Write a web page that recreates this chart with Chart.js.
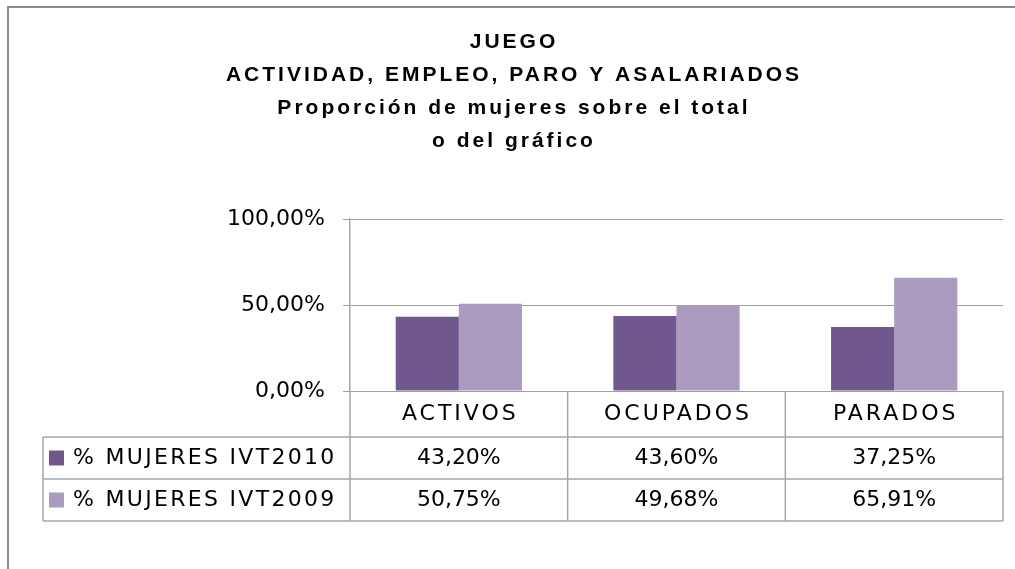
<!DOCTYPE html>
<html>
<head>
<meta charset="utf-8">
<script src="https://cdn.jsdelivr.net/npm/chart.js@4.4.1/dist/chart.umd.min.js"></script>
<style>
  html, body { margin: 0; background: #fff; }
  #wrap { width: 1015px; height: 569px; position: relative; }
</style>
</head>
<body>
<div id="wrap"><canvas id="chart"></canvas></div>
<script>
const categories = ['ACTIVOS', 'OCUPADOS', 'PARADOS'];
const seriesNames = ['% MUJERES IVT2010', '% MUJERES IVT2009'];
const mujeres2010 = [43.20, 43.60, 37.25];
const mujeres2009 = [50.75, 49.68, 65.91];
const yTicks = [0, 50, 100];
const titleLines = [
  'JUEGO',
  'ACTIVIDAD, EMPLEO, PARO Y ASALARIADOS',
  'Proporción de mujeres sobre el total',
  'o del gráfico'
];

const colors = ['#70588E', '#AA9BBF'];
const lineGray = '#A6A6A6';
const fmtPct = v => Number(v).toFixed(2).replace('.', ',') + '%';

// title, outer frame and the data table under the plot
const tablePlugin = {
  id: 'tablePlugin',
  afterDraw(chart) {
    const ctx = chart.ctx;
    const { left, right, bottom } = chart.chartArea;
    const x = chart.scales.x;
    const series = [mujeres2010, mujeres2009];
    const rowTops = [bottom, 437, 479, 521];
    const tableLeft = 43;

    ctx.save();

    // frame
    ctx.strokeStyle = '#8C8C8C';
    ctx.lineWidth = 2;
    ctx.beginPath();
    ctx.moveTo(8, 569); ctx.lineTo(8, 7); ctx.lineTo(1015, 7);
    ctx.stroke();

    // title
    ctx.fillStyle = '#000';
    ctx.textAlign = 'center';
    ctx.textBaseline = 'middle';
    ctx.font = 'bold 21px "Liberation Sans", sans-serif';
    ctx.letterSpacing = '3px';
    const titleY = [42, 75, 108, 141];
    titleLines.forEach((t, i) => ctx.fillText(t, 514, titleY[i]));

    // table grid
    ctx.strokeStyle = lineGray;
    ctx.lineWidth = 1.5;
    ctx.beginPath();
    for (let r = 1; r < rowTops.length; r++) {
      ctx.moveTo(tableLeft, rowTops[r]); ctx.lineTo(right, rowTops[r]);
    }
    ctx.moveTo(tableLeft, rowTops[1]); ctx.lineTo(tableLeft, rowTops[3]);
    const bounds = [left];
    for (let i = 0; i < categories.length - 1; i++) {
      bounds.push((x.getPixelForValue(i) + x.getPixelForValue(i + 1)) / 2);
    }
    bounds.push(right);
    bounds.forEach(b => { ctx.moveTo(b, bottom); ctx.lineTo(b, rowTops[3]); });
    ctx.stroke();

    // category header
    ctx.font = '22px "DejaVu Sans", sans-serif';
    ctx.letterSpacing = '3px';
    categories.forEach((c, i) => {
      ctx.fillText(c, x.getPixelForValue(i) + 1.5, (rowTops[0] + rowTops[1]) / 2);
    });

    // series rows
    series.forEach((vals, s) => {
      const cy = (rowTops[s + 1] + rowTops[s + 2]) / 2;
      ctx.fillStyle = colors[s];
      ctx.fillRect(49, cy - 7.5, 15, 15);
      ctx.fillStyle = '#000';
      ctx.textAlign = 'left';
      ctx.letterSpacing = '2.3px';
      ctx.fillText(seriesNames[s], 73, cy);
      ctx.textAlign = 'center';
      ctx.letterSpacing = '0px';
      vals.forEach((v, i) => ctx.fillText(fmtPct(v), x.getPixelForValue(i), cy));
    });

    ctx.restore();
  }
};

new Chart(document.getElementById('chart').getContext('2d'), {
  type: 'bar',
  data: {
    labels: categories,
    datasets: [
      { label: seriesNames[0], data: mujeres2010, backgroundColor: colors[0] },
      { label: seriesNames[1], data: mujeres2009, backgroundColor: colors[1] }
    ]
  },
  options: {
    responsive: true,
    maintainAspectRatio: false,
    animation: false,
    layout: { padding: { left: 0, right: 12, top: 219, bottom: 178 } },
    datasets: { bar: { categoryPercentage: 0.58, barPercentage: 1.0 } },
    plugins: { legend: { display: false }, tooltip: { enabled: false }, title: { display: false } },
    scales: {
      x: { display: false },
      y: {
        min: 0,
        max: 100,
        afterBuildTicks: s => { s.ticks = yTicks.map(v => ({ value: v })); },
        afterFit: s => { s.width = 350; },
        grid: { color: '#A0A0A0', tickLength: 7 },
        border: { color: lineGray, width: 1.5 },
        ticks: {
          callback: fmtPct,
          color: '#000',
          padding: 18,
          font: { family: '"DejaVu Sans", sans-serif', size: 22 }
        }
      }
    }
  },
  plugins: [tablePlugin]
});
</script>
</body>
</html>
